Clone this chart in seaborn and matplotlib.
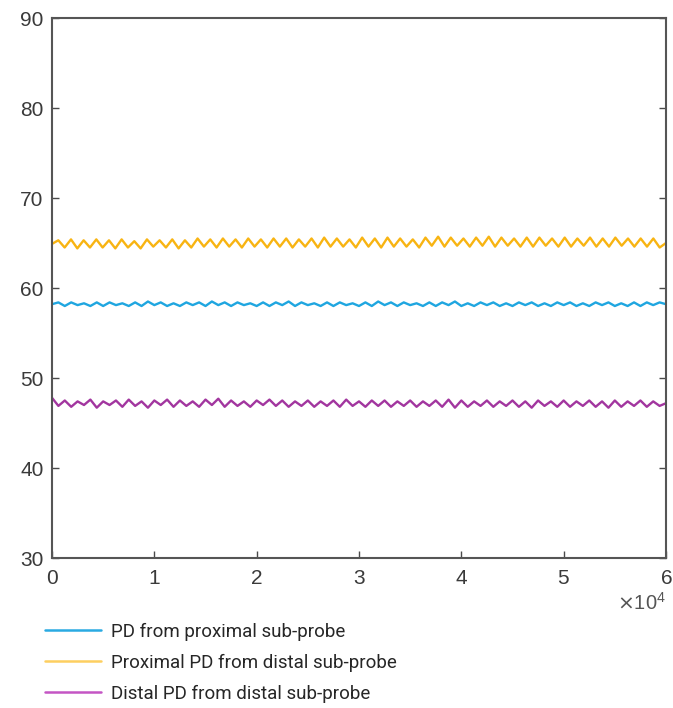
import numpy as np
import pandas as pd
import matplotlib
matplotlib.use("Agg")
import matplotlib.pyplot as plt
import seaborn as sns
from matplotlib.ticker import ScalarFormatter
from matplotlib.lines import Line2D

series_names = ["PD from proximal sub-probe",
                "Proximal PD from distal sub-probe",
                "Distal PD from distal sub-probe"]

blue_vals = [58.2,
    58.4,58.0, 58.4,58.1, 58.3,58.0, 58.4,58.0, 58.4,58.1, 58.3,58.0, 58.4,58.0, 58.5,58.1,
    58.4,58.0, 58.3,58.0, 58.4,58.1, 58.4,58.0, 58.5,58.1, 58.4,58.0, 58.4,58.1, 58.3,58.0,
    58.4,58.0, 58.4,58.1, 58.5,58.0, 58.4,58.1, 58.3,58.0, 58.4,58.0, 58.4,58.1, 58.3,58.0,
    58.4,58.0, 58.5,58.1, 58.4,58.0, 58.4,58.1, 58.3,58.0, 58.4,58.0, 58.4,58.1, 58.5,58.0,
    58.3,58.0, 58.4,58.1, 58.4,58.0, 58.3,58.0, 58.4,58.1, 58.4,58.0, 58.3,58.0, 58.4,58.1,
    58.4,58.0, 58.3,58.0, 58.4,58.1, 58.4,58.0, 58.3,58.0, 58.4,58.0, 58.4,58.1, 58.4,58.2]

yellow_vals = [64.9,
    65.3,64.5, 65.4,64.4, 65.3,64.5, 65.4,64.5, 65.3,64.4, 65.4,64.5, 65.2,64.4, 65.4,64.6,
    65.3,64.5, 65.4,64.4, 65.3,64.5, 65.5,64.6, 65.4,64.5, 65.5,64.6, 65.4,64.5, 65.5,64.6,
    65.4,64.5, 65.5,64.6, 65.5,64.5, 65.4,64.6, 65.5,64.5, 65.6,64.6, 65.5,64.6, 65.4,64.5,
    65.6,64.6, 65.5,64.5, 65.6,64.6, 65.5,64.6, 65.4,64.5, 65.6,64.7, 65.7,64.6, 65.6,64.7,
    65.5,64.6, 65.6,64.7, 65.7,64.6, 65.6,64.7, 65.5,64.6, 65.6,64.6, 65.6,64.7, 65.5,64.6,
    65.6,64.6, 65.5,64.7, 65.6,64.6, 65.5,64.6, 65.6,64.7, 65.5,64.6, 65.5,64.6, 65.5,64.5,
    65.0]

purple_vals = [47.8,
    46.9,47.5, 46.8,47.4, 47.0,47.6, 46.7,47.4, 47.0,47.5, 46.8,47.6, 46.9,47.4, 46.7,47.5,
    47.0,47.6, 46.8,47.5, 46.9,47.4, 46.8,47.6, 47.0,47.7, 46.8,47.5, 46.9,47.4, 46.8,47.5,
    47.0,47.6, 46.9,47.5, 46.8,47.4, 46.9,47.5, 46.8,47.4, 46.9,47.5, 46.8,47.6, 46.9,47.4,
    46.8,47.5, 46.9,47.5, 46.8,47.4, 46.9,47.5, 46.8,47.4, 46.9,47.5, 46.8,47.6, 46.7,47.5,
    46.8,47.4, 46.9,47.5, 46.8,47.4, 46.9,47.5, 46.8,47.4, 46.7,47.5, 46.9,47.4, 46.8,47.5,
    46.8,47.4, 46.9,47.5, 46.8,47.4, 46.7,47.5, 46.8,47.4, 46.9,47.5, 46.8,47.4, 46.9,47.2]

colors = ["#1fa6e0", "#f8b412", "#a2369f"]
legend_colors = ["#2aaae2", "#fdcf60", "#c455c4"]
x_max = 60000
y_ticks = [30, 40, 50, 60, 70, 80, 90]
x_ticks = [0, 10000, 20000, 30000, 40000, 50000, 60000]

frames = []
for name, vals in zip(series_names, [blue_vals, yellow_vals, purple_vals]):
    xs = np.linspace(0, x_max, len(vals))
    frames.append(pd.DataFrame({"x": xs, "y": vals, "series": name}))
df = pd.concat(frames, ignore_index=True)

sns.set_theme(style="white")
plt.rcParams['font.family'] = ['Liberation Sans', 'DejaVu Sans']

fig = plt.figure(figsize=(6.73, 7.08), dpi=100)
ax = fig.add_axes([52/673, 1-558/708, (666-52)/673, (558-18)/708])

sns.lineplot(data=df, x="x", y="y", hue="series", hue_order=series_names,
             palette=colors, linewidth=1.7, ax=ax, legend=False, estimator=None)

ax.set_xlim(0, x_max)
ax.set_ylim(30, 90)
ax.set_xticks(x_ticks)
ax.set_yticks(y_ticks)
ax.set_xlabel("")
ax.set_ylabel("")
fmt = ScalarFormatter(useMathText=True)
fmt.set_powerlimits((0, 0))
ax.xaxis.set_major_formatter(fmt)
ax.tick_params(direction="in", length=5, width=1, colors="#4a4a4a",
               labelsize=15, labelcolor="#3a3a3a", top=False, right=True,
               bottom=True, left=True)
ax.tick_params(axis="x", pad=8)
ax.tick_params(axis="y", pad=6)
off = ax.xaxis.get_offset_text()
off.set_fontsize(14.5)
off.set_color("#555555")
off.set_y(-0.025)
for s in ax.spines.values():
    s.set_visible(True)
    s.set_color("#555555")
    s.set_linewidth(1.5)

handles = [Line2D([0], [0], color=c, lw=1.8) for c in legend_colors]
fig.legend(handles, series_names, loc="upper left",
           bbox_to_anchor=(28/673, 1-606/708), frameon=False,
           prop={"family": ["Roboto", "DejaVu Sans"], "size": 13.5},
           handlelength=3.0, handletextpad=0.55, labelspacing=0.68)

fig.savefig("out.png", dpi=100, facecolor="white")
